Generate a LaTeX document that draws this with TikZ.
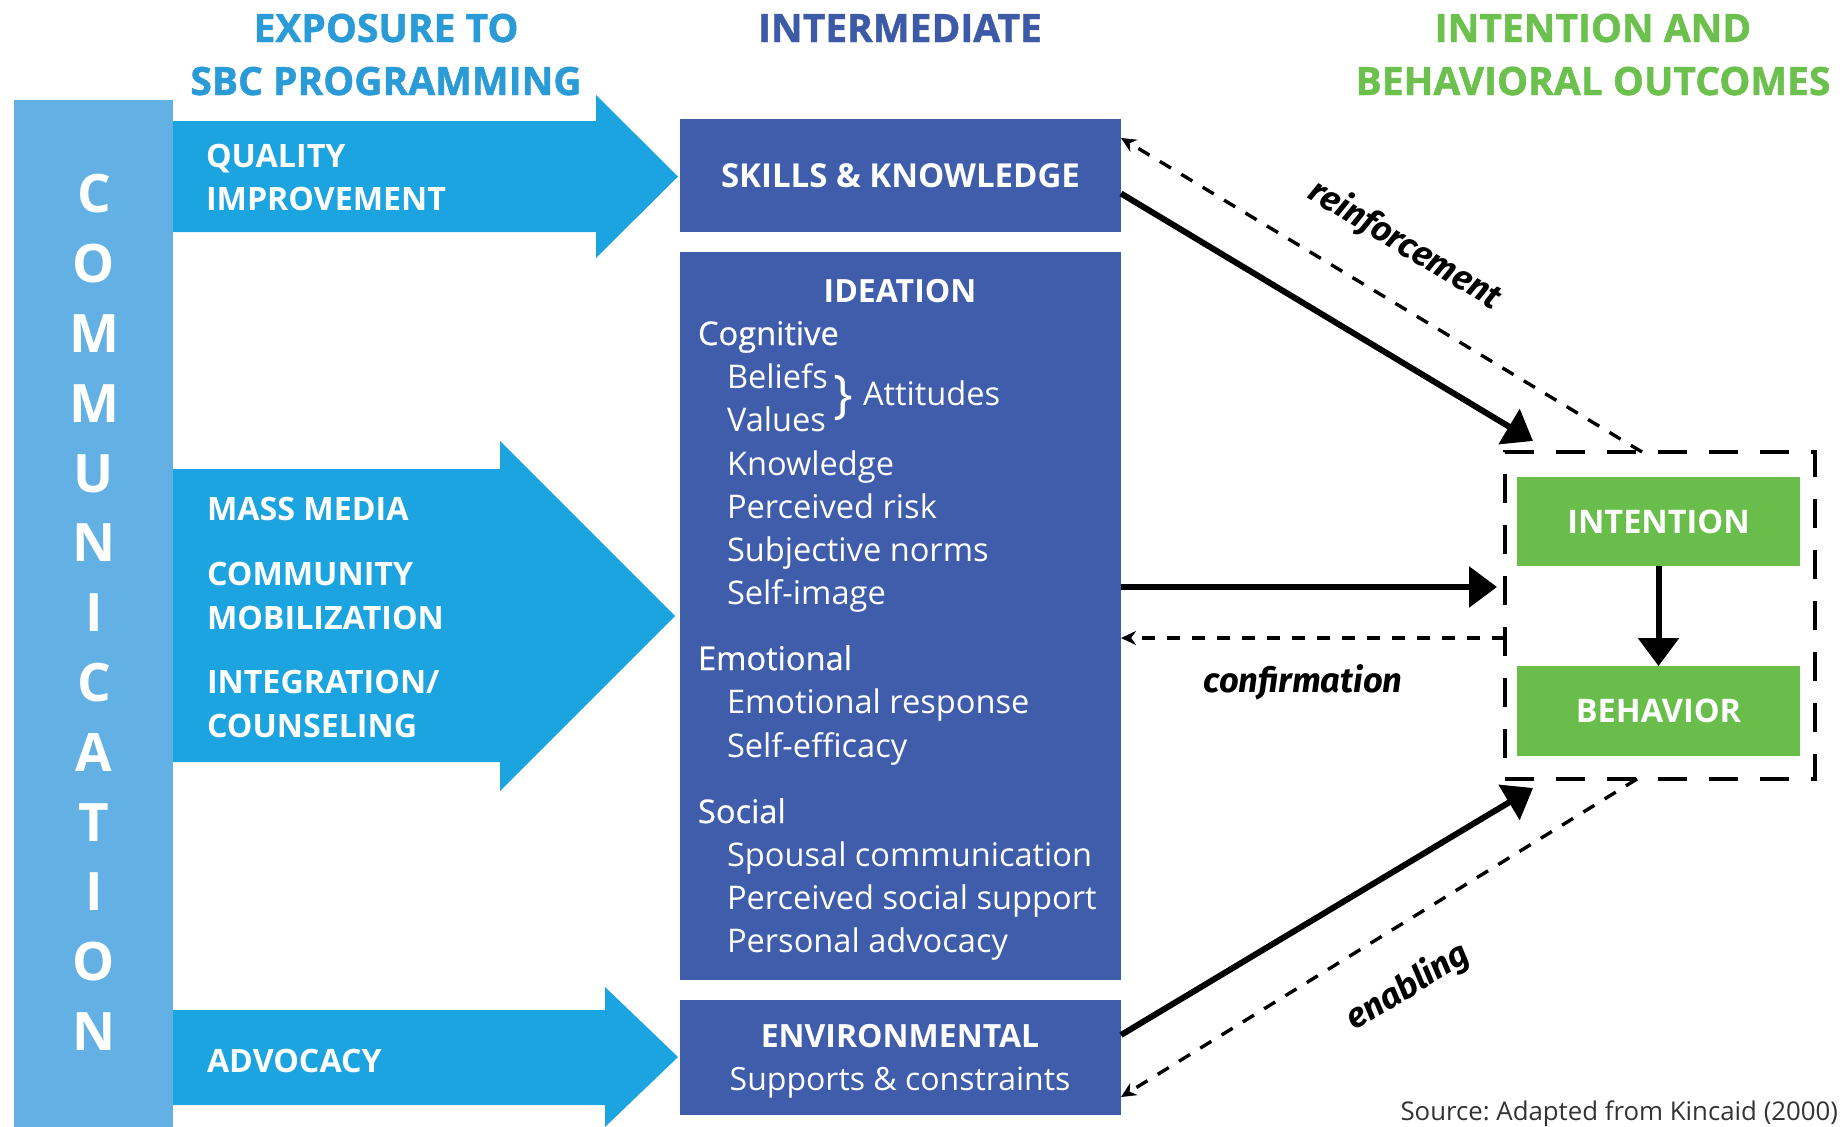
\documentclass[tikz,border=0pt]{standalone}
\usepackage{fontspec}
\setmainfont{Open Sans}
\newfontfamily\labfont{Fira Sans}
\newfontfamily\hdfont[BoldFeatures={FakeBold=1.2}]{Open Sans}
\newfontfamily\semib[FakeBold=0.6]{Open Sans}
\usetikzlibrary{arrows.meta,calc}
\definecolor{commc}{HTML}{62B0E4}
\definecolor{arrowc}{HTML}{1CA4E0}
\definecolor{hdblue}{HTML}{2A9BD7}
\definecolor{dkblue}{HTML}{3F5DAB}
\definecolor{hdnavy}{HTML}{3D5AA7}
\definecolor{grn}{HTML}{69BD4A}
\definecolor{hdgreen}{HTML}{6CC04E}
\definecolor{srcgray}{HTML}{333333}
\frenchspacing
\begin{document}
\begin{tikzpicture}[x=1pt,y=-1pt,
  every node/.style={inner sep=0pt, outer sep=0pt},
  hd/.style={font=\fontsize{39}{44}\hdfont\bfseries, anchor=base},
  box/.style={fill=dkblue, minimum width=441pt},
  gbox/.style={fill=grn, minimum width=283pt, text=white, font=\fontsize{32.5}{36}\selectfont\bfseries},
  alab/.style={text=white, font=\fontsize{32.2}{36}\selectfont\bfseries, anchor=base west},
  itxt/.style={text=white, font=\fontsize{32.6}{38}\selectfont, anchor=base west},
  isem/.style={text=white, font=\fontsize{32.6}{38}\semib, anchor=base west},
  ibold/.style={text=white, font=\fontsize{32}{38}\selectfont\bfseries, anchor=base},
  solidarr/.style={line width=6pt, -{Triangle[length=28pt,width=40pt]}},
  dasharr/.style={line width=3.4pt, dash pattern=on 13pt off 12pt, -{Stealth[length=15pt,width=14pt]}},
  lab/.style={font=\fontsize{34.5}{38}\labfont\bfseries\itshape}
]
\useasboundingbox (0,0) rectangle (1842,1127);
% headers
\node[hd, text=hdblue] (h1a) at (386,42) {EXPOSURE TO};
\node[hd, text=hdblue] (h1b) at (386,95) {SBC PROGRAMMING};
\node[hd, text=hdnavy] (h2) at (900,42) {INTERMEDIATE};
\node[hd, text=hdgreen] (h3a) at (1593,42) {INTENTION AND};
\node[hd, text=hdgreen] (h3b) at (1593,95) {BEHAVIORAL OUTCOMES};
% communication bar
\node[fill=commc, minimum width=159pt, minimum height=1027pt] (comm) at (93.5,613.5) {};
\node[text=white, align=center, font=\fontsize{53}{69.8}\selectfont\bfseries] (commtxt) at (94,612.5)
  {C\\O\\M\\M\\U\\N\\I\\C\\A\\T\\I\\O\\N};
% big arrows
\fill[arrowc] (173,121) -- (596,121) -- (596,95) -- (678,176.5) -- (596,258) -- (596,232) -- (173,232) -- cycle;
\fill[arrowc] (173,469) -- (500,469) -- (500,441) -- (675,616) -- (500,791) -- (500,762) -- (173,762) -- cycle;
\fill[arrowc] (173,1010) -- (605,1010) -- (605,987) -- (678,1057) -- (605,1127) -- (605,1105) -- (173,1105) -- cycle;
\node[alab] (qi1) at (206,167) {QUALITY};
\node[alab] (qi2) at (206,210) {IMPROVEMENT};
\node[alab] (mm) at (207,520) {MASS MEDIA};
\node[alab] (cm1) at (207,585) {COMMUNITY};
\node[alab] (cm2) at (207,629) {MOBILIZATION};
\node[alab] (ic1) at (207,693) {INTEGRATION/};
\node[alab] (ic2) at (207,737) {COUNSELING};
\node[alab] (adv) at (207,1072) {ADVOCACY};
% intermediate boxes
\node[box, minimum height=113pt, text=white, font=\fontsize{33}{36}\selectfont\bfseries] (skills) at (900.5,175.5) {SKILLS \& KNOWLEDGE};
\node[box, minimum height=728pt] (ideation) at (900.5,616) {};
\node[box, minimum height=115pt] (env) at (900.5,1057.5) {};
\node[ibold] (idt) at (900,302) {IDEATION};
\node[isem] (cog) at (698,345) {Cognitive};
\node[itxt] (bel) at (727,388) {Beliefs};
\node[itxt] (val) at (727,431.6) {Values};
\node[text=white, font=\fontsize{52}{52}\selectfont, anchor=center] (brace) at (843,398) {\}};
\node[itxt] (att) at (863,405) {Attitudes};
\node[itxt] (kno) at (727,475) {Knowledge};
\node[itxt] (risk) at (727,518.2) {Perceived risk};
\node[itxt] (norm) at (727,561.5) {Subjective norms};
\node[itxt] (self) at (727,604.8) {Self-image};
\node[isem] (emo) at (698,670) {Emotional};
\node[itxt] (emor) at (727,713) {Emotional response};
\node[itxt] (eff) at (727,757) {Self-efficacy};
\node[isem] (soc) at (698,823) {Social};
\node[itxt] (spo) at (727,866) {Spousal communication};
\node[itxt] (pss) at (727,909) {Perceived social support};
\node[itxt] (pad) at (727,952) {Personal advocacy};
\node[ibold] (envt) at (900,1047) {ENVIRONMENTAL};
\node[text=white, font=\fontsize{32}{38}\selectfont, anchor=base] (sup) at (900,1090) {Supports \& constraints};
% outcomes
\node[draw, line width=4pt, dash pattern=on 29pt off 22pt, minimum width=310pt, minimum height=327pt] (outer) at (1660,615.5) {};
\node[gbox, minimum height=89pt] (intent) at (1658.5,521.5) {INTENTION};
\node[gbox, minimum height=90pt] (behav) at (1658.5,711) {BEHAVIOR};
\draw[solidarr] (intent.south) -- (behav.north);
% connectors
\draw[solidarr] ([yshift=-18pt]skills.east) -- ([xshift=28pt,yshift=11pt]outer.north west);
\draw[dasharr] ([xshift=137pt]outer.north west) -- ([yshift=-19pt]skills.north east);
\draw[solidarr] ([yshift=29pt]ideation.east) -- ([xshift=-8pt,yshift=28.5pt]outer.west);
\draw[dasharr] ([yshift=-22.5pt]outer.west) -- ([yshift=-22pt]ideation.east);
\draw[solidarr] ([yshift=22.5pt]env.east) -- ([xshift=28pt,yshift=-9pt]outer.south west);
\draw[dasharr] ([xshift=132pt]outer.south west) -- ([yshift=-39.5pt]env.east);
% labels
\node[lab, rotate=-31] (reinf) at (1405,245) {reinforcement};
\node[lab, anchor=base] (conf) at (1303,692) {confirmation};
\node[lab, rotate=31] (enab) at (1408,987) {enabling};
\node[text=srcgray, font=\fontsize{25.8}{28}\selectfont, anchor=base east] (src) at (1838,1120) {Source: Adapted from Kincaid (2000)};
\end{tikzpicture}
\end{document}
